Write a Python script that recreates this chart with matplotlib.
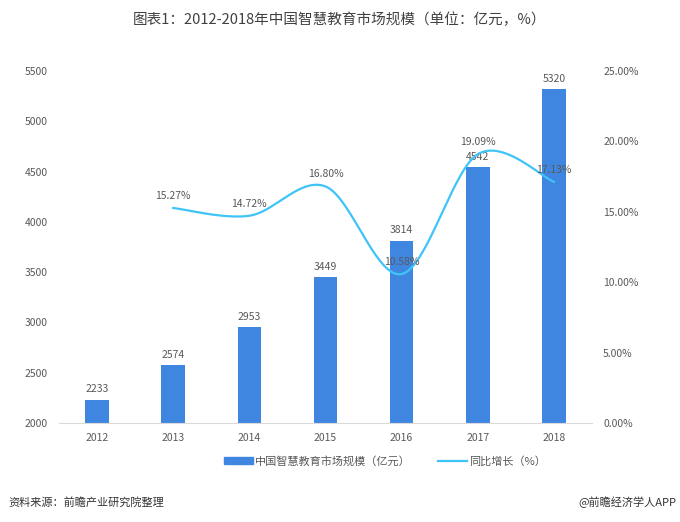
import numpy as np
import matplotlib.pyplot as plt
from matplotlib.patches import Patch
from matplotlib.lines import Line2D

plt.rcParams['font.family'] = ['Noto Sans CJK SC', 'DejaVu Sans']

years = ['2012', '2013', '2014', '2015', '2016', '2017', '2018']
market = [2233, 2574, 2953, 3449, 3814, 4542, 5320]
growth = [None, 15.27, 14.72, 16.80, 10.58, 19.09, 17.13]

bar_color = '#3F86E0'
line_color = '#3FC4F7'
text_color = '#595959'


def smooth(xs, ys, sx, sy, n=40):
    # Excel-like smoothed line: cubic bezier, control points from neighbours
    p = np.column_stack([np.asarray(xs) * sx, np.asarray(ys) * sy])
    out = []
    for i in range(len(p) - 1):
        p0 = p[i - 1] if i > 0 else p[i]
        p1, p2 = p[i], p[i + 1]
        p3 = p[i + 2] if i + 2 < len(p) else p[i + 1]
        c1 = p1 + (p2 - p0) / 6
        c2 = p2 - (p3 - p1) / 6
        t = np.linspace(0, 1, n)[:, None]
        seg = ((1 - t) ** 3) * p1 + 3 * ((1 - t) ** 2) * t * c1 + 3 * (1 - t) * t ** 2 * c2 + t ** 3 * p2
        out.append(seg)
    out = np.vstack(out)
    return out[:, 0] / sx, out[:, 1] / sy


fig = plt.figure(figsize=(6.8, 5.22), dpi=100)
ax = fig.add_axes([59 / 680, 1 - 423 / 522, 533 / 680, 352 / 522])
x = np.arange(len(years))
ax.bar(x, market, width=0.31, color=bar_color, zorder=2)
for xi, v in zip(x, market):
    ax.text(xi, v + 55, str(v), ha='center', va='bottom', fontsize=7.5, color=text_color)
ax.set_ylim(2000, 5500)
ax.set_xlim(-0.5, 6.5)
ax.set_yticks(range(2000, 5501, 500))
ax.set_xticks(x)
ax.set_xticklabels(years)
for s in ['top', 'left', 'right']:
    ax.spines[s].set_visible(False)
ax.spines['bottom'].set_color('#D9D9D9')
ax.tick_params(axis='both', length=0, labelsize=7.5, colors=text_color)
ax.tick_params(axis='y', pad=8)
ax.tick_params(axis='x', pad=7)

ax2 = ax.twinx()
gx = [i for i, g in enumerate(growth) if g is not None]
gy = [g for g in growth if g is not None]
sx_, sy_ = smooth(gx, gy, 76.2, 352 / 25)
ax2.plot(sx_, sy_, color=line_color, lw=1.6, zorder=3)
for xi, g in zip(gx, gy):
    ax2.text(xi, g + 0.5, f'{g:.2f}%', ha='center', va='bottom', fontsize=7.5, color=text_color)
ax2.set_ylim(0, 25)
ax2.set_yticks(np.arange(0, 25.01, 5))
ax2.set_yticklabels([f'{v:.2f}%' for v in np.arange(0, 25.01, 5)])
for s in ['top', 'left', 'right', 'bottom']:
    ax2.spines[s].set_visible(False)
ax2.tick_params(axis='y', length=0, labelsize=7.5, colors=text_color, pad=8)

handles = [Patch(color=bar_color), Line2D([0], [0], color=line_color, lw=1.6)]
fig.legend(handles, ['中国智慧教育市场规模（亿元）', '同比增长（%）'], loc='center',
           bbox_to_anchor=(385 / 680, 1 - 461 / 522), ncol=2, frameon=False,
           fontsize=8, labelcolor=text_color, handlelength=2.6, handleheight=0.5,
           handletextpad=0.2, columnspacing=2.5)

fig.text(0.5, 1 - 20 / 522, '图表1：2012-2018年中国智慧教育市场规模（单位：亿元，%）',
         ha='center', va='center', fontsize=10.5, color='#404040')
fig.text(8 / 680, 1 - 502 / 522, '资料来源：前瞻产业研究院整理', ha='left', va='center',
         fontsize=8, color='#333333', style='italic')
fig.text(676 / 680, 1 - 502 / 522, '@前瞻经济学人APP', ha='right', va='center',
         fontsize=8, color='#333333')

fig.savefig('out.png', dpi=100)
